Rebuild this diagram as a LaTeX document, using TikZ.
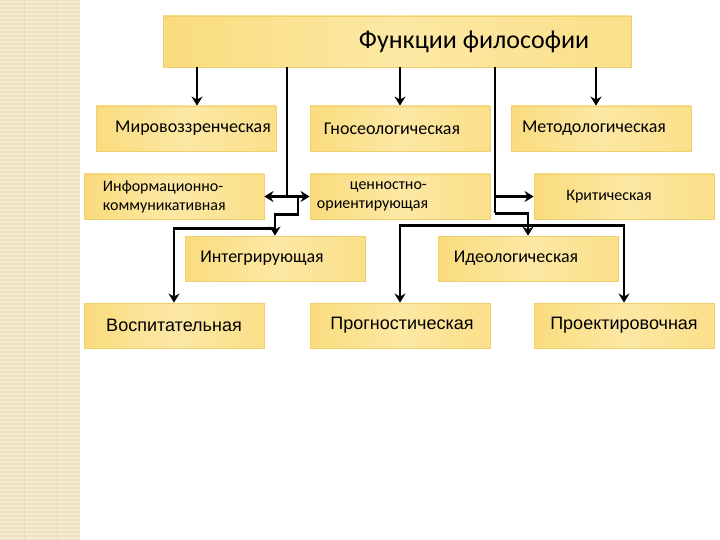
\documentclass[tikz,border=0pt]{standalone}
\usepackage{fontspec}
\setmainfont{Carlito}
\newfontfamily\arialfont{Liberation Sans}
\usetikzlibrary{arrows.meta,calc}

\definecolor{stripbg}{HTML}{EEE0BD}
\definecolor{stripln}{HTML}{F6EDD6}
\definecolor{ylwA}{HTML}{FADC7E}
\definecolor{ylwB}{HTML}{FCE8A4}
\definecolor{ylwEdge}{HTML}{F1CF6C}

\tikzset{every picture/.style={line width=0.75pt}}
\tikzset{
  fbox/.style={draw=ylwEdge, line width=0.8pt, left color=ylwA, right color=ylwA!70!ylwB, middle color=ylwB,
    minimum width=180pt, minimum height=45pt, inner sep=0pt},
  ftext/.style={font=\fontsize{18}{21}\selectfont, inner sep=0pt},
  btext/.style={font=\arialfont\fontsize{18}{21}\selectfont, inner sep=0pt},
  arr/.style={line width=2.8pt, -{Stealth[length=9pt,width=11pt]}},
  dbl/.style={line width=2.8pt, {Stealth[length=9pt,width=11pt]}-{Stealth[length=9pt,width=11pt]}},
  ln/.style={line width=2.8pt}
}

\begin{document}
\begin{tikzpicture}[x=1pt,y=1pt,yscale=-1,xscale=1]
\useasboundingbox (0,0) rectangle (720,540);
\fill[white] (0,0) rectangle (720,540);

% textured strip on the left
\fill[stripbg] (0,0) rectangle (80,540);
\foreach \y in {2,6,...,540} {
  \draw[stripln, line width=1.1pt] (0,\y) -- (80,\y);
}
\foreach \x in {24,57} {
  \draw[stripbg!93!brown, line width=0.5pt] (\x,0) -- (\x,540);
}

% boxes
\node[fbox, minimum width=468pt, minimum height=51pt] (top) at (397,41.5) {};
\node[ftext, font=\fontsize{26}{30}\selectfont] (toptxt) at ([xshift=77pt]top.center) {Функции философии};

\node[fbox] (mir) at (186,128.5) {};
\node[ftext] (mirtxt) at ([xshift=7pt]mir.center) {Мировоззренческая};
\node[fbox] (gno) at (400,128.5) {};
\node[ftext] (gnotxt) at ([xshift=-8pt]gno.center) {Гносеологическая};
\node[fbox] (met) at (601,128.5) {};
\node[ftext] (mettxt) at ([xshift=-7pt]met.center) {Методологическая};

\node[fbox] (inf) at (174,196.5) {};
\node[ftext, anchor=west, align=left, font=\fontsize{16}{19}\selectfont] (inftxt) at ([xshift=19pt]inf.west) {Информационно-\\коммуникативная};
\node[fbox] (cen) at (400,196.5) {};
\node[ftext, anchor=west, align=left, font=\fontsize{16}{19}\selectfont] (centxt) at ([xshift=7pt]cen.west) {\hspace*{33pt}ценностно-\\ориентирующая};
\node[fbox] (kri) at (624,196.5) {};
\node[ftext, font=\fontsize{16}{19}\selectfont] (kritxt) at ([xshift=-15pt]kri.center) {Критическая};

\node[fbox] (int) at (275,258.5) {};
\node[ftext] (inttxt) at ([xshift=-13pt]int.center) {Интегрирующая};
\node[fbox] (ide) at (528,258.5) {};
\node[ftext] (idetxt) at ([xshift=-12pt]ide.center) {Идеологическая};

\node[fbox] (vos) at (174,325.5) {};
\node[btext] (vostxt) at (vos.center) {Воспитательная};
\node[fbox] (pro) at (400,325.5) {};
\node[btext] (protxt) at ([xshift=2pt]pro.center) {Прогностическая};
\node[fbox] (prk) at (624,325.5) {};
\node[btext] (prktxt) at (prk.center) {Проектировочная};

% connectors
\draw[arr] ([xshift=11pt]mir.north |- top.south) -- ([xshift=11pt]mir.north);
\draw[arr] (gno.north |- top.south) -- (gno.north);
\draw[arr] ([xshift=-5pt]met.north |- top.south) -- ([xshift=-5pt]met.north);

\coordinate (jl) at ([xshift=113pt]inf.center);
\draw[ln] (jl |- top.south) -- (jl);
\draw[dbl] (inf.east) -- (cen.west);
\coordinate (jl2) at ([xshift=124pt]inf.center);
\coordinate (jint) at ([yshift=-7pt]int.north);
\draw[arr] (jl2) -- ([yshift=-21pt]int.north -| jl2) -- ([yshift=-21pt]int.north) -- (int.north);
\draw[arr] (jint) -| (vos.north);

\coordinate (jr) at ([xshift=95pt,yshift=17pt]cen.center);
\draw[ln] (jr |- top.south) -- (jr);
\draw[arr] (jr |- kri.west) -- (kri.west);
\draw[arr] (jr) -- (jr -| ide.north) -- (ide.north);
\coordinate (jide) at ([yshift=-10pt]ide.north);
\draw[arr] (jide) -| (pro.north);
\draw[arr] (jide) -| (prk.north);
\end{tikzpicture}
\end{document}
